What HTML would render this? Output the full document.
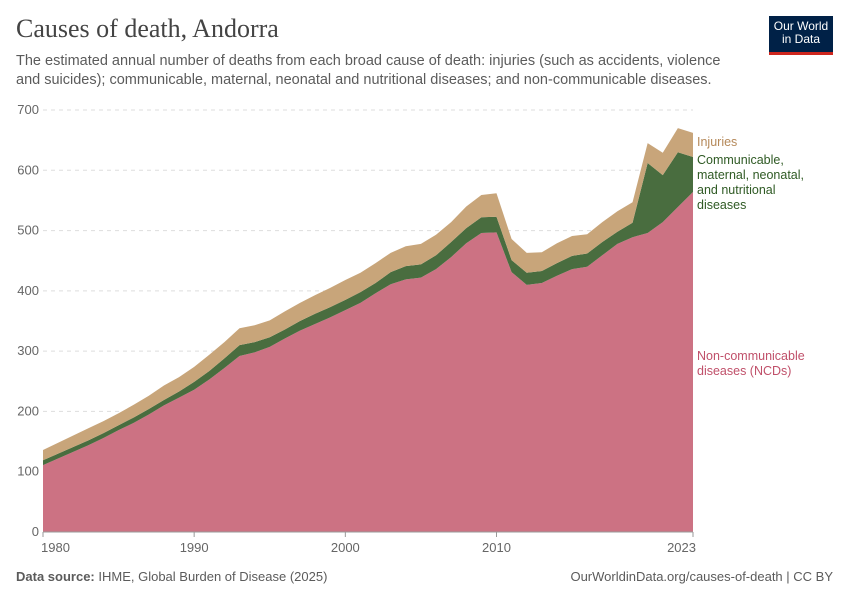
<!DOCTYPE html>
<html><head><meta charset="utf-8"><style>
body{margin:0;background:#fff;font-family:"Liberation Sans",sans-serif;}
#wrap{position:relative;width:850px;height:600px;overflow:hidden;}
.t{position:absolute;margin:0;}
</style></head><body>
<div id="wrap">
<h1 class="t" style="left:16px;top:14px;font-family:'Liberation Serif',serif;font-weight:normal;font-size:26px;color:#444;">Causes of death, Andorra</h1>
<p class="t" style="left:16px;top:52px;width:720px;font-size:14.5px;line-height:19px;color:#5b5b5b;">The estimated annual number of deaths from each broad cause of death: injuries (such as accidents, violence and suicides); communicable, maternal, neonatal and nutritional diseases; and non-communicable diseases.</p>
<div class="t" style="left:769px;top:16px;width:64px;height:36px;background:#002147;border-bottom:3px solid #ce261e;color:#fff;font-size:12px;line-height:13px;text-align:center;padding-top:4px;box-sizing:border-box;height:39px;">Our World<br>in Data</div>
<svg id="chart" width="850" height="600" style="position:absolute;left:0;top:0"></svg>
<div class="t" style="left:16px;top:569px;font-size:13px;color:#5b5b5b;"><b>Data source:</b> IHME, Global Burden of Disease (2025)</div>
<div class="t" style="right:17px;top:569px;font-size:13px;color:#5b5b5b;">OurWorldinData.org/causes-of-death | CC BY</div>
</div>
<script>
const years=[];for(let y=1980;y<=2023;y++)years.push(y);
const ncd=[111,122,133,144,156,169,181,195,210,223,236,253,272,292,298,307,321,334,345,356,368,380,396,411,419,422,436,456,479,496,497,431,410,413,425,436,440,459,478,489,496,514,539,564];
const commTop=[119,130,141,152,164,177,190,204,219,233,249,267,288,310,315,323,336,350,362,373,385,398,413,431,441,444,459,481,504,522,523,451,430,433,446,458,462,481,498,513,612,592,630,622];
const totals=[136,148,160,172,184,197,211,226,243,257,274,294,315,338,343,351,366,380,393,405,418,430,446,463,474,478,493,514,540,559,562,486,463,464,479,491,494,514,532,547,645,629,670,662];
const comm=commTop.map((v,i)=>v-ncd[i]);
const injuries=totals.map((v,i)=>v-commTop[i]);
const yTicks=[0,100,200,300,400,500,600,700];
const xTicks=[1980,1990,2000,2010,2023];
const NS="http://www.w3.org/2000/svg";
const svg=document.getElementById('chart');
const x=y=>43+(y-1980)*(650/43);
const yv=v=>532-v*(422/700);
function el(t,a,p){const e=document.createElementNS(NS,t);for(const k in a)e.setAttribute(k,a[k]);(p||svg).appendChild(e);return e;}
yTicks.forEach(v=>{
 const l=el('line',{x1:43,x2:693,y1:yv(v),y2:yv(v),stroke:v?'#ddd':'#999','stroke-dasharray':v?'4,4':'none'});
 
 
 const t=el('text',{x:39,y:yv(v)+4,'text-anchor':'end','font-size':13,fill:'#666'});t.textContent=v;
 
 
});
const layers=[[ncd,'#cc7283','ncd-area'],[comm,'#496d3f','communicable-area'],[injuries,'#c8a57a','injuries-area']];
let base=years.map(()=>0);
layers.forEach(([s,c,n])=>{
 const top=base.map((b,i)=>b+s[i]);
 let d='M'+years.map((y,i)=>x(y)+','+yv(top[i])).join('L');
 d+='L'+years.slice().reverse().map((y,j)=>{const i=years.length-1-j;return x(y)+','+yv(base[i]);}).join('L')+'Z';
 const p=el('path',{d:d,fill:c});
 
 
 base=top;
});
el('line',{x1:43,x2:693,y1:532,y2:532,stroke:'#999'});
xTicks.forEach(v=>{
 el('line',{x1:x(v),x2:x(v),y1:532,y2:537,stroke:'#999'});
 const t=el('text',{x:x(v),y:552,'text-anchor':v==1980?'start':(v==2023?'end':'middle'),'font-size':13,fill:'#666'});t.textContent=v;
 if(v==1980)t.setAttribute('x',x(v)-2);
 if(v==2023)t.setAttribute('x',x(v)+3);
 
 
});
function lab(lines,y0,c,n){const t=el('text',{x:697,y:y0,'font-size':12.5,fill:c});lines.forEach((s,i)=>{const ts=el('tspan',{x:697,dy:i?15:0},t);ts.textContent=s;});}
lab(['Injuries'],146,'#b5895a','legend-injuries');
lab(['Communicable,','maternal, neonatal,','and nutritional','diseases'],164,'#2f5a24','legend-communicable');
lab(['Non-communicable','diseases (NCDs)'],360,'#c0506a','legend-ncd');
</script>
</body></html>
